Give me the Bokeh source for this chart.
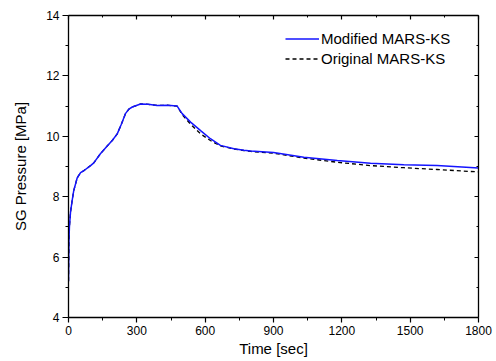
from bokeh.plotting import figure
from bokeh.models import LinearAxis, Legend, LegendItem, FixedTicker, Range1d
from bokeh.embed import file_html
from bokeh.resources import INLINE

# Modified MARS-KS (solid blue)
t_mod = [0, 2, 4, 9, 16, 23, 38, 53, 67, 97, 111, 140, 170, 192, 214, 232, 250, 265, 280,
         316, 350, 389, 433, 477, 499, 536, 580, 623, 667, 726, 770, 800, 900, 1033, 1180,
         1326, 1472, 1618, 1800]
p_mod = [5.2, 6.5, 7.0, 7.5, 7.87, 8.2, 8.62, 8.8, 8.86, 9.03, 9.12, 9.42, 9.68, 9.86, 10.08,
         10.4, 10.75, 10.9, 10.97, 11.07, 11.06, 11.02, 11.03, 11.0, 10.75, 10.47, 10.19, 9.92,
         9.70, 9.59, 9.54, 9.51, 9.46, 9.31, 9.2, 9.11, 9.06, 9.03, 8.95]

# Original MARS-KS (dashed black)
t_org = [0, 2, 4, 9, 16, 23, 38, 53, 67, 97, 111, 140, 170, 192, 214, 232, 250, 265, 280,
         316, 350, 389, 433, 477, 499, 536, 580, 623, 667, 726, 770, 800, 900, 1033, 1180,
         1326, 1472, 1618, 1800]
p_org = [5.2, 6.5, 7.0, 7.5, 7.87, 8.2, 8.62, 8.8, 8.86, 9.03, 9.12, 9.42, 9.68, 9.86, 10.08,
         10.4, 10.75, 10.9, 10.97, 11.07, 11.06, 11.02, 11.03, 11.0, 10.72, 10.40, 10.08, 9.86,
         9.68, 9.58, 9.53, 9.50, 9.44, 9.28, 9.14, 9.03, 8.96, 8.90, 8.82]

x_major = [0, 300, 600, 900, 1200, 1500, 1800]
x_minor = [150, 450, 750, 1050, 1350, 1650]
y_major = [4, 6, 8, 10, 12, 14]
y_minor = [5, 7, 9, 11, 13]

FONT = "Liberation Sans"

p = figure(width=496, height=361, output_backend="svg", toolbar_location=None,
           x_range=Range1d(0, 1800), y_range=Range1d(4, 14),
           min_border_left=68, min_border_right=18, min_border_top=15, min_border_bottom=44)
p.outline_line_color = None
p.xgrid.visible = False
p.ygrid.visible = False
p.background_fill_color = "white"
p.border_fill_color = "white"

r_mod = p.line(t_mod, p_mod, line_color="#1414ff", line_width=1.5)
r_org = p.line(t_org, p_org, line_color="black", line_width=1.3, line_dash="4 3")
# put blue on top
p.renderers = [r_org, r_mod]

def style(ax):
    ax.axis_line_color = "black"
    ax.axis_line_width = 1.3
    ax.major_tick_line_color = "black"
    ax.minor_tick_line_color = "black"
    ax.major_tick_line_width = 1.2
    ax.minor_tick_line_width = 1.0
    ax.major_label_text_font = FONT
    ax.major_label_text_font_size = "12px"
    ax.major_label_text_color = "black"
    ax.axis_label_text_font = FONT
    ax.axis_label_text_font_style = "normal"
    ax.axis_label_text_font_size = "15px"
    ax.axis_label_text_color = "black"

xa = p.xaxis[0]
style(xa)
xa.ticker = FixedTicker(ticks=x_major, minor_ticks=x_minor)
xa.major_tick_out = 5
xa.major_tick_in = 0
xa.minor_tick_out = 3
xa.minor_tick_in = 0
xa.major_label_standoff = 3
xa.axis_label = "Time [sec]"
xa.axis_label_standoff = 2

ya = p.yaxis[0]
style(ya)
ya.ticker = FixedTicker(ticks=y_major, minor_ticks=y_minor)
ya.major_tick_out = 6
ya.major_tick_in = 0
ya.minor_tick_out = 3
ya.minor_tick_in = 0
ya.major_label_standoff = 3
ya.axis_label = "SG Pressure [MPa]"
ya.axis_label_standoff = 14

def frame_axis(ticks, minor):
    ax = LinearAxis()
    style(ax)
    ax.ticker = FixedTicker(ticks=ticks, minor_ticks=minor)
    ax.major_tick_out = 0
    ax.major_tick_in = 4
    ax.minor_tick_out = 0
    ax.minor_tick_in = 2
    ax.major_label_text_color = None
    ax.major_label_text_font_size = "1px"
    ax.major_label_standoff = 0
    return ax

p.add_layout(frame_axis(x_major, x_minor), "above")
p.add_layout(frame_axis(y_major, y_minor), "right")

legend = Legend(items=[LegendItem(label="Modified MARS-KS", renderers=[r_mod]),
                       LegendItem(label="Original MARS-KS", renderers=[r_org])],
                location=(217, 250))
legend.label_text_font = FONT
legend.label_text_font_size = "15px"
legend.label_text_color = "black"
legend.glyph_width = 34
legend.glyph_height = 15
legend.label_height = 15
legend.label_standoff = 2
legend.spacing = 3
legend.padding = 0
legend.margin = 0
legend.border_line_color = None
legend.background_fill_alpha = 0
p.add_layout(legend, "center")

open("out.html", "w").write(file_html(p, INLINE))
